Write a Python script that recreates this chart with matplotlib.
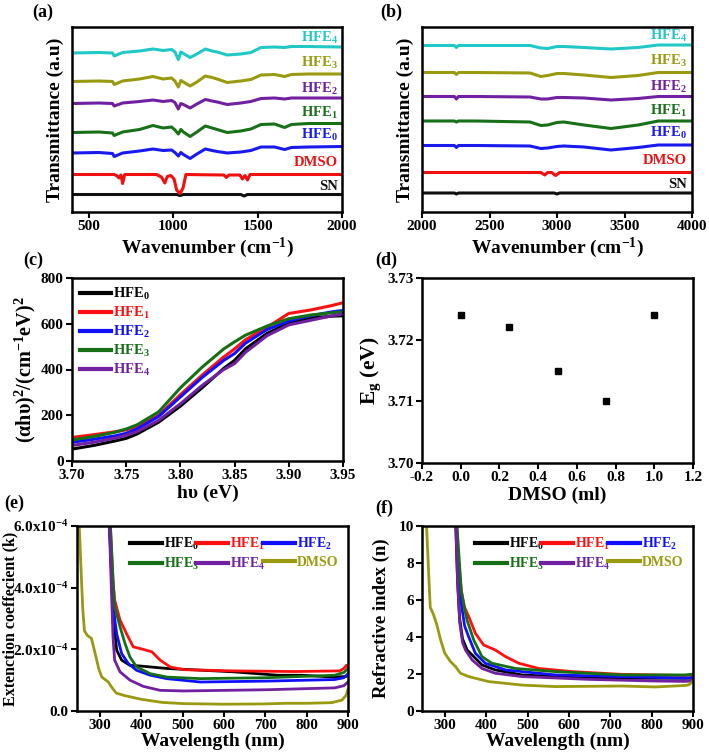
import numpy as np
import matplotlib
matplotlib.use("Agg")
import matplotlib.pyplot as plt

plt.rcParams['font.family'] = ['Liberation Serif', 'DejaVu Serif']
plt.rcParams['font.weight'] = 'bold'
plt.rcParams['axes.labelweight'] = 'bold'
plt.rcParams['mathtext.fontset'] = 'custom'
plt.rcParams['mathtext.rm'] = 'Liberation Serif:bold'
plt.rcParams['mathtext.it'] = 'Liberation Serif:bold'
plt.rcParams['mathtext.bf'] = 'Liberation Serif:bold'
plt.rcParams['axes.linewidth'] = 1.8

# colours
c_hfe0 = '#1a1af0'
c_hfe1 = '#187018'
c_hfe2 = '#7020a0'
c_hfe3 = '#9a9a10'
c_hfe4 = '#20c8c8'
c_dmso = '#f01010'
c_sn = '#101010'

# ---------------- (a) FTIR 400-2000 ----------------
wn_a = [400, 560, 640, 650, 700, 800, 880, 940, 990, 1010, 1030, 1045, 1060, 1100,
        1140, 1190, 1230, 1260, 1320, 1400, 1460, 1520, 1600, 1660, 1700, 1800, 2000]
a_hfe4 = [159, 159.5, 159, 156, 159.5, 161, 163, 161.5, 162.5, 160, 152.5, 160, 158.5, 154.5,
          158, 163, 161, 160, 157, 158, 159.5, 164.5, 165, 164.5, 165.5, 165.5, 165]
a_hfe3 = [130.5, 131, 130.5, 127.5, 131, 133, 135.5, 133, 134, 131, 125, 131.5, 130, 126,
          130, 136, 134.5, 133, 129.5, 131, 132.5, 137, 137.5, 135.5, 137.5, 138, 138]
a_hfe2 = [108.5, 109, 108.5, 106, 109, 110.5, 112, 110.5, 111.5, 109.5, 103, 108.5, 107.5, 104,
          108, 112.5, 111, 110, 107.5, 109, 110.5, 113.5, 114, 113, 114, 114, 114]
a_hfe1 = [79.5, 80, 79, 76.5, 80, 82.5, 86.5, 84, 85, 82, 78, 82.5, 80, 75.5,
          80, 86, 84, 82.5, 79.5, 81, 83, 87.5, 88, 84.5, 87.5, 88.5, 88.5]
a_hfe0 = [59, 59.5, 58.5, 55.5, 59, 61, 63, 61.5, 62, 59.5, 56, 59.5, 57.5, 53.5,
          58, 63, 61.5, 60.5, 59, 60, 61.5, 65, 65, 62.5, 64.5, 65, 65.5]
wn_a_dmso = [400, 650, 668, 678, 690, 700, 712, 900, 930, 950, 965, 985, 1005, 1020, 1040,
             1058, 1075, 1300, 1315, 1330, 1395, 1410, 1425, 1440, 1455, 2000]
a_dmso = [37.5, 37.5, 36, 34, 37, 28.5, 37.5, 37.5, 35, 29, 35.5, 36.5, 33, 22, 18.5,
          24, 37.5, 37, 34.5, 37, 37, 33, 36.5, 32, 37.5, 37.5]
wn_a_sn = [400, 1020, 1040, 1060, 1400, 1420, 1440, 2000]
a_sn = [17.5, 17.5, 16.5, 17.5, 17.5, 16, 17.5, 17.5]

# ---------------- (b) FTIR 2000-4000 ----------------
wn_b = [2000, 2240, 2255, 2270, 2400, 2800, 2880, 2930, 3000, 3050, 3200, 3400, 3600, 3750, 4000]
b_hfe4 = [166.5, 166.5, 164.5, 166.5, 166.5, 166.5, 164, 163.5, 165.5, 165.5, 164.5, 163, 164.5, 167, 167]
b_hfe3 = [139.5, 139.5, 137.5, 139.5, 139.5, 139, 135.5, 136.5, 138.5, 138.5, 137, 134.5, 136.5, 139.5, 139.5]
b_hfe2 = [115.5, 115.5, 113, 115.5, 115.5, 115, 113, 113, 114.5, 114.5, 114, 112, 113.5, 115.5, 115.5]
b_hfe1 = [91, 91, 90, 91, 91, 90, 86.5, 87, 89.5, 90, 87, 83.5, 87, 91, 91]
b_hfe0 = [66.5, 66.5, 64.5, 66.5, 66.5, 66, 63.5, 64, 65.5, 66, 65, 62, 64.5, 67, 67]
wn_b_dmso = [2000, 2880, 2910, 2930, 2960, 2990, 3020, 4000]
b_dmso = [39.5, 39.5, 37, 39.5, 39.5, 36.5, 39.5, 39.5]
wn_b_sn = [2000, 2240, 2255, 2270, 2980, 3000, 3020, 4000]
b_sn = [19, 19, 18, 19, 19, 18, 19, 19]

ftir_names = ['HFE$_4$', 'HFE$_3$', 'HFE$_2$', 'HFE$_1$', 'HFE$_0$', 'DMSO', 'SN']
ftir_label_y = [174, 149, 123, 99, 77, 50, 26]

# ---------------- (c) Tauc ----------------
hv_c = [3.70, 3.72, 3.74, 3.75, 3.76, 3.78, 3.80, 3.82, 3.84, 3.85, 3.86, 3.88, 3.90, 3.92, 3.94, 3.95]
c_black = [52, 68, 88, 99, 118, 170, 240, 320, 405, 440, 490, 558, 603, 625, 633, 635]
c_red = [103, 115, 128, 136, 150, 200, 290, 375, 455, 490, 530, 585, 645, 660, 680, 692]
c_blue = [82, 95, 110, 121, 140, 195, 280, 365, 440, 470, 515, 575, 612, 635, 652, 658]
c_green = [92, 107, 126, 140, 158, 215, 320, 410, 490, 521, 550, 590, 622, 638, 648, 652]
c_purple = [68, 82, 100, 113, 128, 178, 250, 330, 400, 426, 475, 548, 595, 615, 635, 643]

# ---------------- (d) band gap ----------------
dmso_ml = [0.0, 0.25, 0.5, 0.75, 1.0]
eg = [3.724, 3.722, 3.715, 3.710, 3.724]

# ---------------- (e) extinction coefficient (x1e-4) ----------------
e_wl0 = [322, 330, 336, 341, 353, 373, 397, 462, 624, 730, 787, 868, 895, 900]
e_k0 = [6.5, 4.0, 2.6, 1.97, 1.65, 1.48, 1.46, 1.38, 1.27, 1.16, 1.16, 1.10, 1.12, 1.15]
e_wl1 = [324, 332, 336, 349, 365, 381, 405, 426, 446, 470, 503, 624, 770, 880, 890, 896, 900]
e_k1 = [6.5, 4.2, 3.6, 2.95, 2.5, 2.08, 2.0, 1.92, 1.65, 1.43, 1.34, 1.30, 1.28, 1.30, 1.38, 1.48, 1.42]
e_wl2 = [322, 330, 336, 341, 353, 369, 389, 422, 462, 543, 705, 868, 890, 900]
e_k2 = [6.5, 4.0, 3.0, 2.5, 1.86, 1.54, 1.32, 1.16, 1.05, 0.94, 0.97, 1.02, 1.08, 1.21]
e_wl3 = [324, 332, 336, 349, 361, 373, 389, 422, 462, 543, 705, 868, 890, 900]
e_k3 = [6.5, 4.3, 3.4, 2.73, 2.19, 1.75, 1.43, 1.21, 1.10, 1.05, 1.08, 1.16, 1.25, 1.38]
e_wl4 = [322, 328, 332, 336, 349, 373, 405, 446, 503, 705, 868, 890, 900]
e_k4 = [6.5, 4.0, 2.4, 1.65, 1.27, 1.0, 0.8, 0.67, 0.65, 0.69, 0.75, 0.82, 0.94]
e_wld = [248, 252, 256, 259, 263, 270, 280, 290, 298, 305, 320, 330, 340, 360, 400, 450, 500,
         600, 700, 750, 800, 860, 885, 895, 900]
e_kd = [6.8, 5.5, 4.2, 3.3, 2.6, 2.45, 2.35, 1.8, 1.35, 1.1, 0.95, 0.75, 0.58, 0.5, 0.38, 0.28,
        0.24, 0.22, 0.23, 0.25, 0.25, 0.27, 0.35, 0.5, 0.7]
k_ticks = [0, 2e-4, 4e-4, 6e-4]
k_ticklabels = ['0.0', '2.0x10$^{-4}$', '4.0x10$^{-4}$', '6.0x10$^{-4}$']

# ---------------- (f) refractive index ----------------
f_wl0 = [326, 331, 336, 343, 354, 370, 390, 422, 487, 648, 809, 897, 900]
f_n0 = [10.5, 7.0, 5.0, 3.9, 3.3, 2.94, 2.49, 2.22, 1.95, 1.77, 1.77, 1.77, 1.8]
f_wl1 = [328, 334, 340, 348, 358, 374, 394, 422, 447, 479, 527, 608, 728, 880, 897, 900]
f_n1 = [10.5, 8.0, 6.5, 5.6, 5.1, 4.2, 3.57, 3.3, 2.94, 2.58, 2.3, 2.13, 1.98, 1.92, 1.95, 2.0]
f_wl2 = [327, 333, 340, 348, 358, 374, 398, 447, 567, 728, 880, 897, 900]
f_n2 = [10.5, 8.0, 5.8, 4.6, 4.0, 3.12, 2.58, 2.22, 1.95, 1.86, 1.78, 1.80, 1.85]
f_wl3 = [328, 334, 340, 347, 354, 370, 390, 414, 471, 567, 728, 880, 897, 900]
f_n3 = [10.5, 8.5, 6.5, 5.6, 4.9, 3.84, 2.94, 2.58, 2.3, 2.13, 1.95, 1.95, 1.98, 2.0]
f_wl4 = [326, 331, 336, 343, 350, 366, 390, 422, 487, 648, 809, 880, 897, 900]
f_n4 = [10.5, 7.0, 4.8, 3.7, 3.3, 2.76, 2.3, 2.04, 1.86, 1.71, 1.62, 1.6, 1.62, 1.7]
f_wld = [255, 258, 262, 265, 273, 281, 290, 300, 314, 326, 338, 358, 406, 487, 567, 728, 809,
         881, 890, 897, 900]
f_nd = [10.5, 9.0, 7.0, 5.6, 5.2, 4.65, 3.84, 3.12, 2.67, 2.4, 2.04, 1.86, 1.59, 1.40, 1.32,
        1.35, 1.30, 1.38, 1.42, 1.55, 1.62]

W, H = 709, 754
fig = plt.figure(figsize=(W / 100, H / 100), dpi=100)


def axes_px(l, t, r, b):
    return fig.add_axes([l / W, 1 - b / H, (r - l) / W, (b - t) / H])


def style(ax):
    ax.tick_params(direction='out', width=1.5, length=4, labelsize=11, pad=2)
    for lab in ax.get_xticklabels() + ax.get_yticklabels():
        lab.set_fontweight('bold')


ax_a = axes_px(72, 27, 342, 212)
ax_b = axes_px(422, 27, 692, 212)
ax_c = axes_px(72, 278, 343, 461)
ax_d = axes_px(422, 278, 693, 463)
ax_e = axes_px(77, 526, 348, 711)
ax_f = axes_px(422, 526, 693, 711)

lw = 2.2
# (a)
ftir_cols = [c_hfe4, c_hfe3, c_hfe2, c_hfe1, c_hfe0, c_dmso, c_sn]
ax_a.plot(wn_a_sn, a_sn, color=c_sn, lw=lw)
ax_a.plot(wn_a_dmso, a_dmso, color=c_dmso, lw=lw)
ax_a.plot(wn_a, a_hfe0, color=c_hfe0, lw=lw)
ax_a.plot(wn_a, a_hfe1, color=c_hfe1, lw=lw)
ax_a.plot(wn_a, a_hfe2, color=c_hfe2, lw=lw)
ax_a.plot(wn_a, a_hfe3, color=c_hfe3, lw=lw)
ax_a.plot(wn_a, a_hfe4, color=c_hfe4, lw=lw)
ax_a.set_xlim(400, 2000)
ax_a.set_ylim(0, 185)
ax_a.set_xticks([500, 1000, 1500, 2000])
ax_a.set_yticks([])
for name, yv, col in zip(ftir_names, ftir_label_y, ftir_cols):
    ax_a.text(1975, yv, name, color=col, ha='right', va='center', fontsize=10.5, fontweight='bold')
ax_a.set_xlabel('Wavenumber (cm$^{-1}$)', fontsize=14, labelpad=2)
ax_a.set_ylabel('Transmittance (a.u)', fontsize=14, labelpad=6)
style(ax_a)

# (b)
ax_b.plot(wn_b_sn, b_sn, color=c_sn, lw=lw)
ax_b.plot(wn_b_dmso, b_dmso, color=c_dmso, lw=lw)
ax_b.plot(wn_b, b_hfe0, color=c_hfe0, lw=lw)
ax_b.plot(wn_b, b_hfe1, color=c_hfe1, lw=lw)
ax_b.plot(wn_b, b_hfe2, color=c_hfe2, lw=lw)
ax_b.plot(wn_b, b_hfe3, color=c_hfe3, lw=lw)
ax_b.plot(wn_b, b_hfe4, color=c_hfe4, lw=lw)
ax_b.set_xlim(2000, 4000)
ax_b.set_ylim(0, 185)
ax_b.set_xticks([2000, 2500, 3000, 3500, 4000])
ax_b.set_yticks([])
for name, yv, col in zip(ftir_names, ftir_label_y, ftir_cols):
    ax_b.text(3965, yv + 2, name, color=col, ha='right', va='center', fontsize=10.5, fontweight='bold')
ax_b.set_xlabel('Wavenumber (cm$^{-1}$)', fontsize=14, labelpad=2)
ax_b.set_ylabel('Transmittance (a.u)', fontsize=14, labelpad=6)
style(ax_b)

# (c)
tauc_cols = ['#000000', '#ff1010', '#1010ff', '#157015', '#7020a0']
tauc = [c_black, c_red, c_blue, c_green, c_purple]
for i, (yv, col) in enumerate(zip(tauc, tauc_cols)):
    ax_c.plot(hv_c, yv, color=col, lw=2.2, label='HFE$_%d$' % i)
ax_c.set_xlim(3.70, 3.95)
ax_c.set_ylim(0, 800)
ax_c.set_xticks([3.70, 3.75, 3.80, 3.85, 3.90, 3.95])
ax_c.set_xticklabels(['3.70', '3.75', '3.80', '3.85', '3.90', '3.95'])
ax_c.set_yticks([0, 200, 400, 600, 800])
leg = ax_c.legend(loc='upper left', frameon=False, fontsize=10.5, handlelength=2.1,
                  handletextpad=0.15, labelspacing=0.2, borderaxespad=0.15, labelcolor='linecolor')
for h in leg.get_lines():
    h.set_linewidth(3)
ax_c.set_xlabel('h\u03c5 (eV)', fontsize=14, labelpad=2)
ax_c.set_ylabel('(\u03b1h\u03c5)$^2$/(cm$^{-1}$eV)$^2$', fontsize=14.5, labelpad=2)
style(ax_c)

# (d)
ax_d.plot(dmso_ml, eg, 's', color='black', ms=4.8)
ax_d.set_xlim(-0.2, 1.2)
ax_d.set_ylim(3.70, 3.73)
ax_d.set_xticks([-0.2, 0.0, 0.2, 0.4, 0.6, 0.8, 1.0, 1.2])
ax_d.set_xticklabels(['-0.2', '0.0', '0.2', '0.4', '0.6', '0.8', '1.0', '1.2'])
ax_d.set_yticks([3.70, 3.71, 3.72, 3.73])
ax_d.set_yticklabels(['3.70', '3.71', '3.72', '3.73'])
ax_d.set_xlabel('DMSO (ml)', fontsize=14, labelpad=2)
ax_d.set_ylabel('E$_g$ (eV)', fontsize=15.5, labelpad=3)
style(ax_d)

# (e)
ol = '#9a9a10'
e_sets = [(e_wl0, e_k0, '#000000', 'HFE$_0$'), (e_wl1, e_k1, '#ff1010', 'HFE$_1$'),
          (e_wl2, e_k2, '#1010ff', 'HFE$_2$'), (e_wl3, e_k3, '#157015', 'HFE$_3$'),
          (e_wl4, e_k4, '#7020a0', 'HFE$_4$'), (e_wld, e_kd, ol, 'DMSO')]
lines_e = []
for x, y, col, lab in e_sets:
    ln, = ax_e.plot(x, np.array(y) * 1e-4, color=col, lw=2, label=lab)
    lines_e.append(ln)
ax_e.set_xlim(245, 900)
ax_e.set_ylim(0, 6e-4)
ax_e.set_xticks([300, 400, 500, 600, 700, 800, 900])
ax_e.set_yticks(k_ticks)
ax_e.set_yticklabels(k_ticklabels)
order = [0, 3, 1, 4, 2, 5]
leg = ax_e.legend([lines_e[i] for i in order], [lines_e[i].get_label() for i in order],
                  loc='upper right', ncol=3, frameon=False, fontsize=10, handlelength=2.3,
                  handletextpad=0.15, columnspacing=-0.2, labelspacing=0.3, borderaxespad=0.3,
                  labelcolor='linecolor')
for h in leg.get_lines():
    h.set_linewidth(3)
ax_e.set_xlabel('Wavelength (nm)', fontsize=14, labelpad=0)
ax_e.set_ylabel('Extenction coeffecient (k)', fontsize=11.5)
ax_e.yaxis.set_label_coords(-0.215, 0.5)
style(ax_e)

# (f)
f_sets = [(f_wl0, f_n0, '#000000', 'HFE$_0$'), (f_wl1, f_n1, '#ff1010', 'HFE$_1$'),
          (f_wl2, f_n2, '#1010ff', 'HFE$_2$'), (f_wl3, f_n3, '#157015', 'HFE$_3$'),
          (f_wl4, f_n4, '#7020a0', 'HFE$_4$'), (f_wld, f_nd, ol, 'DMSO')]
lines_f = []
for x, y, col, lab in f_sets:
    ln, = ax_f.plot(x, y, color=col, lw=2, label=lab)
    lines_f.append(ln)
ax_f.set_xlim(245, 900)
ax_f.set_ylim(0, 10)
ax_f.set_xticks([300, 400, 500, 600, 700, 800, 900])
ax_f.set_yticks([0, 2, 4, 6, 8, 10])
leg = ax_f.legend([lines_f[i] for i in order], [lines_f[i].get_label() for i in order],
                  loc='upper right', ncol=3, frameon=False, fontsize=10, handlelength=2.3,
                  handletextpad=0.15, columnspacing=-0.2, labelspacing=0.3, borderaxespad=0.3,
                  labelcolor='linecolor')
for h in leg.get_lines():
    h.set_linewidth(3)
ax_f.set_xlabel('Wavelength (nm)', fontsize=14, labelpad=0)
ax_f.set_ylabel('Refractive index (n)', fontsize=13.5, labelpad=6)
style(ax_f)

# panel letters
for lab, px, py in [('(a)', 32, 12), ('(b)', 380, 12), ('(c)', 23, 260),
                    ('(d)', 375, 260), ('(e)', 4, 503), ('(f)', 375, 508)]:
    fig.text(px / W, 1 - py / H, lab, fontsize=13, fontweight='bold', va='center', ha='left')

fig.savefig('out.png', dpi=100)
